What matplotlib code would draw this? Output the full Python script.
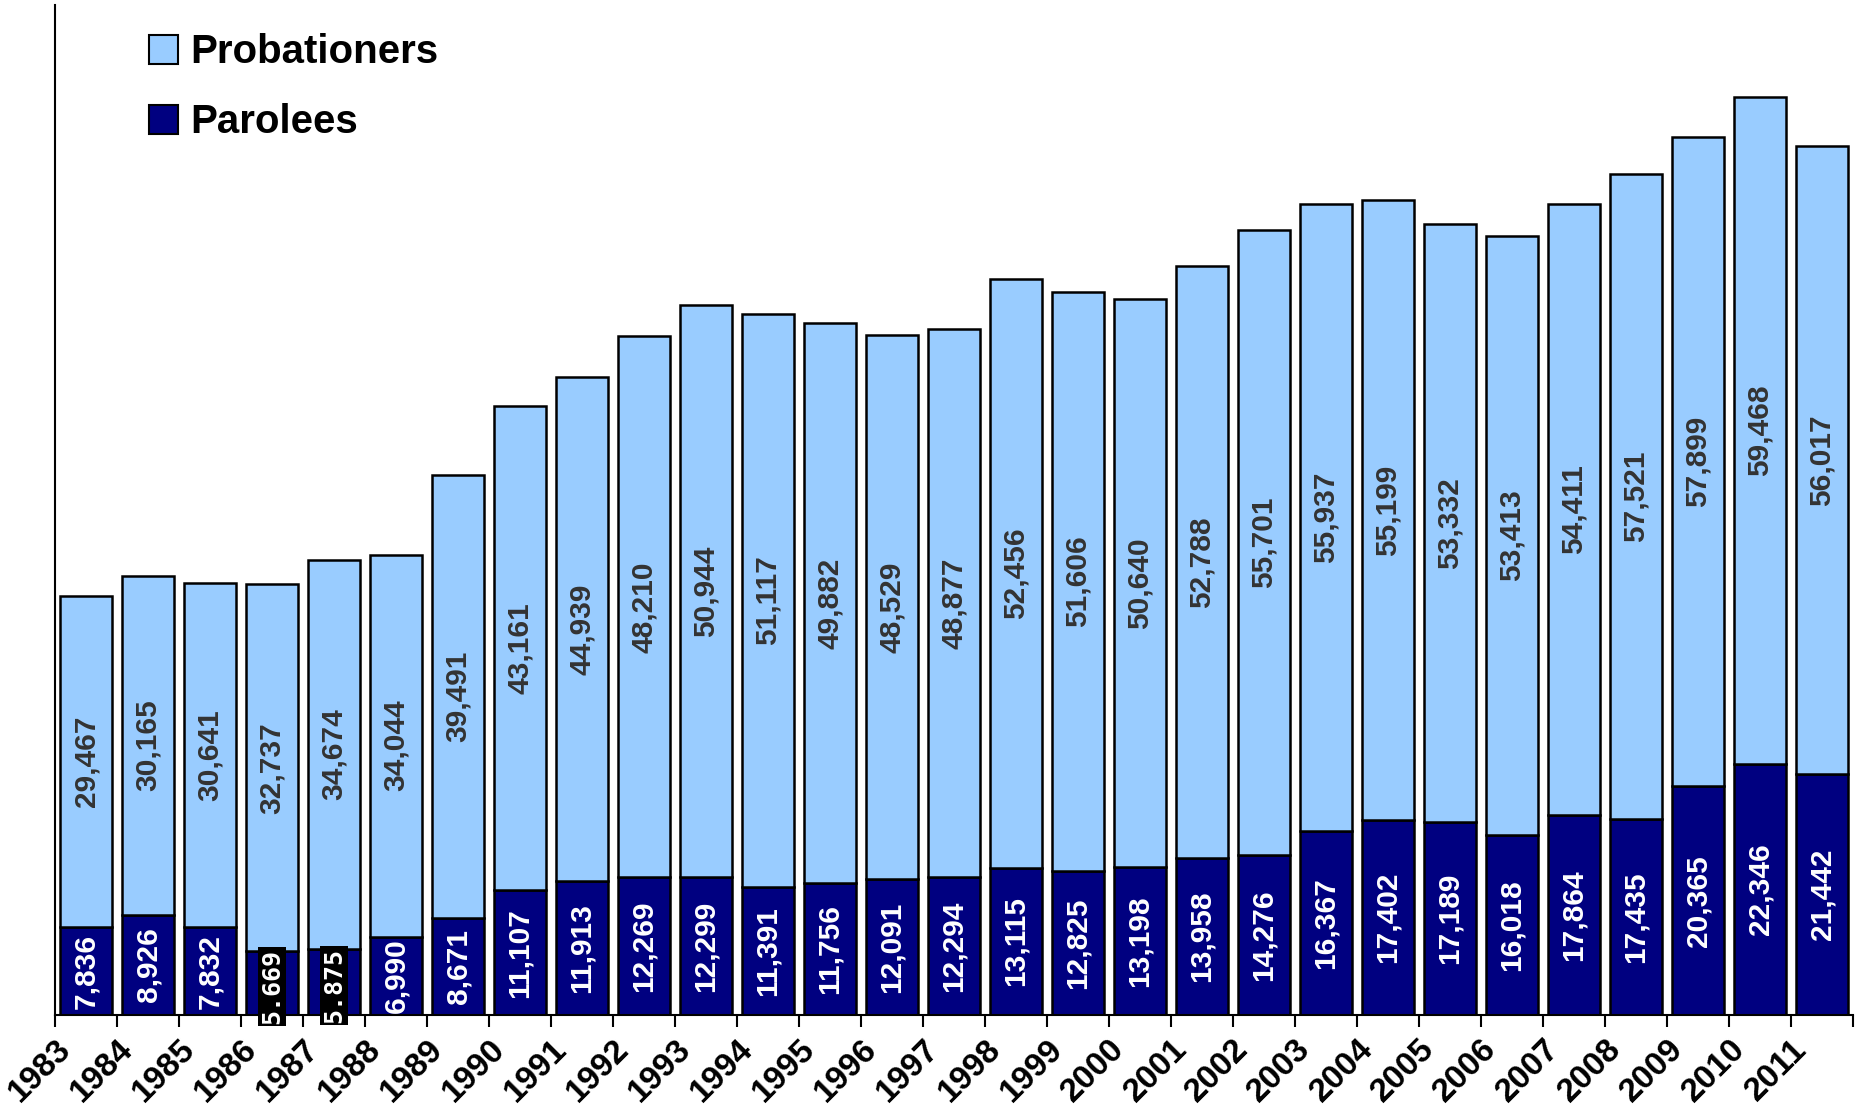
import matplotlib
matplotlib.use("Agg")
import matplotlib.pyplot as plt
from matplotlib.patches import Patch

years = [str(y) for y in range(1983, 2012)]
parolees = [7836, 8926, 7832, 5669, 5875, 6990, 8671, 11107, 11913, 12269,
            12299, 11391, 11756, 12091, 12294, 13115, 12825, 13198, 13958, 14276,
            16367, 17402, 17189, 16018, 17864, 17435, 20365, 22346, 21442]
probationers = [29467, 30165, 30641, 32737, 34674, 34044, 39491, 43161, 44939, 48210,
                50944, 51117, 49882, 48529, 48877, 52456, 51606, 50640, 52788, 55701,
                55937, 55199, 53332, 53413, 54411, 57521, 57899, 59468, 56017]

light = "#99CCFF"
navy = "#000080"
font = "Liberation Sans"

fig = plt.figure(figsize=(18.58, 11.17), dpi=100)
ax = fig.add_axes([55/1858, 1 - 1015/1117, (1853-55)/1858, (1015-5)/1117])

x = list(range(len(years)))
w = 0.84
ax.bar(x, parolees, width=w, color=navy, edgecolor="black", linewidth=1.8, zorder=2)
ax.bar(x, probationers, width=w, bottom=parolees, color=light, edgecolor="black",
       linewidth=1.8, zorder=2)

for i in x:
    p = parolees[i]
    q = probationers[i]
    ax.text(i, p + q / 2, f"{q:,}", rotation=90, ha="center", va="center",
            fontsize=21.5, fontweight="bold", color="#333333", family=font, zorder=3)
    if p < 6000:
        ax.text(i, p / 2 - 300, f"{p:,}".replace(",", "."), rotation=90, ha="center", va="center",
                fontsize=18, fontweight="bold", color="white", family="DejaVu Sans Mono",
                zorder=4, bbox=dict(facecolor="black", edgecolor="none", pad=1.5))
    else:
        ax.text(i, p / 2, f"{p:,}", rotation=90, ha="center", va="center",
                fontsize=21.5, fontweight="bold", color="white", family=font, zorder=3)

ax.set_xlim(-0.5, len(years) - 0.5)
ax.set_ylim(0, 90000)
ax.set_yticks([])
ax.set_xticks([i - 0.5 for i in x] + [len(years) - 0.5])
ax.set_xticklabels(years + [""], rotation=45, ha="right", rotation_mode="anchor",
                   fontsize=24, fontweight="bold", family=font)
ax.tick_params(axis="x", direction="out", length=8.5, width=1.5, pad=5)
for s in ["top", "right"]:
    ax.spines[s].set_visible(False)
ax.spines["left"].set_linewidth(1.5)
ax.spines["bottom"].set_linewidth(1.5)

handles = [Patch(facecolor=light, edgecolor="black", linewidth=1.5, label="Probationers"),
           Patch(facecolor=navy, edgecolor="black", linewidth=1.5, label="Parolees")]
leg = ax.legend(handles=handles, loc="upper left", bbox_to_anchor=(0.032, 1.008),
                frameon=False, handlelength=0.73, handleheight=0.73, handletextpad=0.3,
                labelspacing=0.8, prop=dict(family=font, weight="bold", size=29))

fig.savefig("out.png", dpi=100)
